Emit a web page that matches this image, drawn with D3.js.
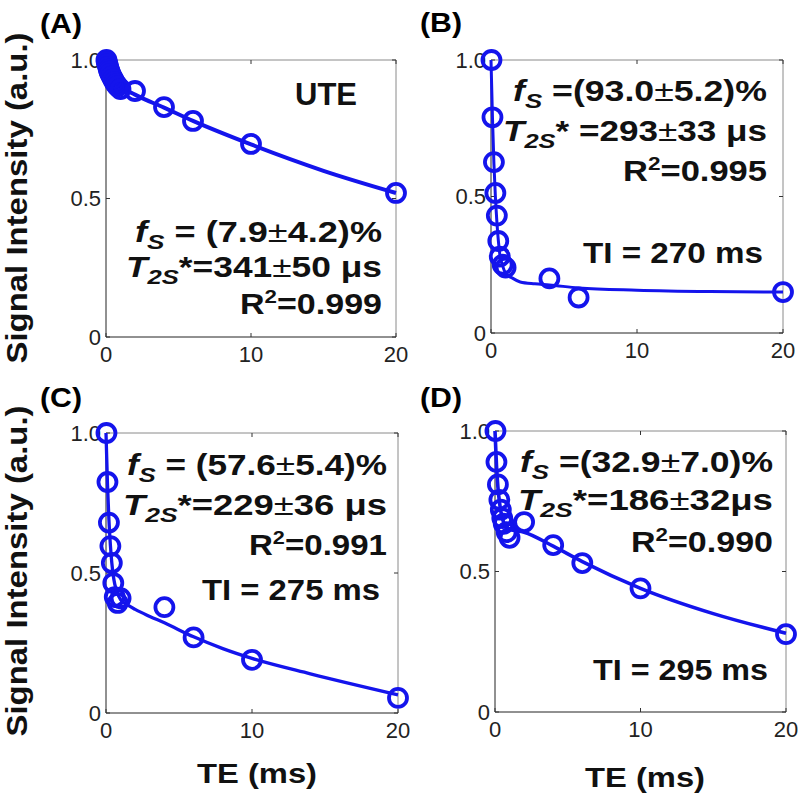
<!DOCTYPE html>
<html><head><meta charset="utf-8">
<script src="https://cdn.jsdelivr.net/npm/d3@7"></script>
<style>body{margin:0;background:#fff}svg{display:block}text{font-family:"Liberation Sans",Arial,sans-serif}</style>
</head><body><svg id="c" width="800" height="796"></svg>
<script>
// ---------- data ----------
const panelLabels = ["(A)", "(B)", "(C)", "(D)"];
const xTicks = [0, 10, 20];
const yTicks = [0, 0.5, 1.0];
const yTickLabels = ["0", "0.5", "1.0"];
const xTitle = "TE (ms)";
const yTitle = "Signal Intensity (a.u.)";

const teA = [0.032, 0.05, 0.1, 0.15, 0.2, 0.25, 0.3, 0.4, 0.5, 0.6, 0.7, 0.8, 1.0, 2, 4, 6, 10, 20];
const siA = [1.0, 0.993, 0.985, 0.975, 0.965, 0.958, 0.95, 0.94, 0.93, 0.92, 0.912, 0.905, 0.895, 0.888, 0.83, 0.78, 0.697, 0.52];
const fitTeA = [0, 0.1, 0.2, 0.3, 0.5, 0.8, 1, 2, 4, 6, 10, 15, 20];
const fitA = [1.0, 0.98, 0.965, 0.952, 0.935, 0.915, 0.905, 0.875, 0.828, 0.78, 0.695, 0.60, 0.52];

const teB = [0.032, 0.1, 0.2, 0.3, 0.4, 0.5, 0.6, 0.8, 1.0, 4, 6, 20];
const siB = [1.0, 0.79, 0.626, 0.513, 0.43, 0.337, 0.28, 0.25, 0.24, 0.20, 0.13, 0.15];
const fitTeB = [0, 0.1, 0.2, 0.3, 0.4, 0.5, 0.6, 0.8, 1, 1.5, 2, 3, 4, 6, 10, 15, 20];
const fitB = [1.0, 0.79, 0.62, 0.50, 0.41, 0.34, 0.29, 0.245, 0.22, 0.2, 0.187, 0.18, 0.176, 0.165, 0.157, 0.152, 0.15];

const teC = [0.032, 0.1, 0.2, 0.3, 0.4, 0.5, 0.6, 0.8, 1.0, 4, 6, 10, 20];
const siC = [1.0, 0.825, 0.68, 0.596, 0.536, 0.464, 0.414, 0.393, 0.41, 0.378, 0.27, 0.19, 0.054];
const fitTeC = [0, 0.1, 0.2, 0.3, 0.4, 0.5, 0.6, 0.8, 1, 1.5, 2, 3, 4, 6, 8, 10, 14, 20];
const fitC = [1.0, 0.82, 0.69, 0.6, 0.535, 0.49, 0.46, 0.425, 0.405, 0.385, 0.37, 0.345, 0.322, 0.272, 0.23, 0.195, 0.14, 0.065];

const teD = [0.032, 0.1, 0.2, 0.3, 0.4, 0.5, 0.6, 0.8, 1.0, 2, 4, 6, 10, 20];
const siD = [1.0, 0.89, 0.81, 0.755, 0.72, 0.69, 0.67, 0.64, 0.62, 0.676, 0.594, 0.53, 0.44, 0.277];
const fitTeD = [0, 0.1, 0.2, 0.3, 0.4, 0.5, 0.6, 0.8, 1, 2, 4, 6, 10, 15, 20];
const fitD = [1.0, 0.88, 0.80, 0.75, 0.715, 0.69, 0.675, 0.66, 0.65, 0.64, 0.59, 0.535, 0.44, 0.35, 0.28];

const fsText = [["  = (7.9", "4.2)%"], [" =(93.0", "5.2)%"], [" = (57.6", "5.4)%"], [" =(32.9", "7.0)%"]];
const t2Text = [["*=341", "50 μs"], ["* =293", "33 μs"], ["*=229", "36 μs"], ["*=186", "32μs"]];
const r2Text = ["0.999", "0.995", "0.991", "0.990"];
const extraText = ["UTE", "TI = 270 ms", "TI = 275 ms", "TI = 295 ms"];

// ---------- layout ----------
const BLUE = "#1414ec";
const panels = [
  {te: teA, si: siA, fx: fitTeA, fy: fitA, x0: 106, x1: 396, yT: 60, yB: 337, lab: [40, 33], lw: 4,
   ann: {r: 382, base: [242, 277, 314], w: [247, 256, 142]}, extra: {x: 326, y: 105, w: 62, anchor: "middle"}},
  {te: teB, si: siB, fx: fitTeB, fy: fitB, x0: 491, x1: 783, yT: 60, yB: 333, lab: [420, 32], lw: 3,
   ann: {r: 767, base: [101, 141, 181], w: [254, 264, 144]}, extra: {x: 763, y: 263, w: 180, anchor: "end"}},
  {te: teC, si: siC, fx: fitTeC, fy: fitC, x0: 106, x1: 398, yT: 433, yB: 713, lab: [40, 407], lw: 3.3,
   ann: {r: 387, base: [475, 515, 555], w: [260, 264, 138]}, extra: {x: 380, y: 600, w: 178, anchor: "end"}},
  {te: teD, si: siD, fx: fitTeD, fy: fitD, x0: 495, x1: 786, yT: 431, yB: 712, lab: [420, 407], lw: 3.6,
   ann: {r: 773, base: [472, 510, 552], w: [253, 255, 142]}, extra: {x: 768, y: 680, w: 175, anchor: "end"}}
];

const svg = d3.select("#c");

panels.forEach((p, i) => {
  const x = d3.scaleLinear().domain([0, 20]).range([p.x0, p.x1]);
  const y = d3.scaleLinear().domain([0, 1]).range([p.yB, p.yT]);
  const g = svg.append("g");

  // box
  g.append("line").attr("x1", p.x0).attr("x2", p.x1).attr("y1", p.yT).attr("y2", p.yT).attr("stroke", "#8a8a8a");
  g.append("line").attr("x1", p.x1).attr("x2", p.x1).attr("y1", p.yT).attr("y2", p.yB).attr("stroke", "#8a8a8a");
  g.append("line").attr("x1", p.x0).attr("x2", p.x1).attr("y1", p.yB).attr("y2", p.yB).attr("stroke", "#222");
  g.append("line").attr("x1", p.x0).attr("x2", p.x0).attr("y1", p.yT).attr("y2", p.yB).attr("stroke", "#222");

  // ticks (inward, all sides)
  xTicks.forEach(t => {
    g.append("line").attr("x1", x(t)).attr("x2", x(t)).attr("y1", p.yB).attr("y2", p.yB - 4).attr("stroke", "#333");
    g.append("line").attr("x1", x(t)).attr("x2", x(t)).attr("y1", p.yT).attr("y2", p.yT + 4).attr("stroke", "#333");
    g.append("text").attr("x", x(t)).attr("y", p.yB + 25).attr("text-anchor", "middle")
      .attr("font-size", 22).attr("fill", "#222").text(t);
  });
  yTicks.forEach((t, k) => {
    g.append("line").attr("x1", p.x0).attr("x2", p.x0 + 4).attr("y1", y(t)).attr("y2", y(t)).attr("stroke", "#333");
    g.append("line").attr("x1", p.x1).attr("x2", p.x1 - 4).attr("y1", y(t)).attr("y2", y(t)).attr("stroke", "#333");
    g.append("text").attr("x", p.x0 - 5).attr("y", y(t)).attr("dy", "0.36em").attr("text-anchor", "end")
      .attr("font-size", 22).attr("fill", "#222").text(yTickLabels[k]);
  });

  // fit line
  const fit = p.fx.map((v, k) => [v, p.fy[k]]);
  g.append("path").datum(fit)
    .attr("d", d3.line().x(d => x(d[0])).y(d => y(d[1])).curve(d3.curveMonotoneX))
    .attr("fill", "none").attr("stroke", BLUE).attr("stroke-width", p.lw);

  // data circles
  g.selectAll("circle.pt").data(p.te.map((v, k) => [v, p.si[k]])).enter().append("circle")
    .attr("cx", d => x(d[0])).attr("cy", d => y(d[1])).attr("r", 9)
    .attr("fill", "none").attr("stroke", BLUE).attr("stroke-width", 3.8);

  // panel label
  g.append("text").attr("x", p.lab[0]).attr("y", p.lab[1]).attr("font-size", 28).attr("font-weight", "bold")
    .attr("textLength", 42).attr("lengthAdjust", "spacingAndGlyphs").text(panelLabels[i]);

  // annotations
  const a = p.ann;
  let t = g.append("text").attr("x", a.r - a.w[0]).attr("y", a.base[0]).attr("font-size", 29).attr("font-weight", "bold")
    .attr("textLength", a.w[0]).attr("lengthAdjust", "spacingAndGlyphs").attr("fill", "#111");
  t.append("tspan").attr("font-style", "italic").text("f");
  t.append("tspan").attr("font-style", "italic").attr("font-size", 21).attr("dy", 7).text("S");
  t.append("tspan").attr("dy", -7).text(fsText[i][0]);
  t.append("tspan").attr("font-weight", "normal").text("±");
  t.append("tspan").text(fsText[i][1]);

  t = g.append("text").attr("x", a.r - a.w[1]).attr("y", a.base[1]).attr("font-size", 29).attr("font-weight", "bold")
    .attr("textLength", a.w[1]).attr("lengthAdjust", "spacingAndGlyphs").attr("fill", "#111");
  t.append("tspan").attr("font-style", "italic").text("T");
  t.append("tspan").attr("font-style", "italic").attr("font-size", 21).attr("dy", 7).text("2S");
  t.append("tspan").attr("dy", -7).text(t2Text[i][0]);
  t.append("tspan").attr("font-weight", "normal").text("±");
  t.append("tspan").text(t2Text[i][1]);

  t = g.append("text").attr("x", a.r - a.w[2]).attr("y", a.base[2]).attr("font-size", 29).attr("font-weight", "bold")
    .attr("textLength", a.w[2]).attr("lengthAdjust", "spacingAndGlyphs").attr("fill", "#111");
  t.append("tspan").text("R");
  t.append("tspan").attr("font-size", 19).attr("dy", -11).text("2");
  t.append("tspan").attr("dy", 11).text("=" + r2Text[i]);

  const e = p.extra;
  g.append("text").attr("x", e.anchor === "middle" ? e.x - e.w / 2 : e.x - e.w).attr("y", e.y)
    .attr("font-size", i === 0 ? 31 : 29).attr("font-weight", "bold").attr("fill", "#111")
    .attr("textLength", e.w).attr("lengthAdjust", "spacingAndGlyphs").text(extraText[i]);
});

// axis titles
[[27, 198], [27, 571]].forEach(c => {
  svg.append("text").attr("transform", `translate(${c[0]},${c[1]}) rotate(-90)`).attr("text-anchor", "middle")
    .attr("font-size", 30).attr("font-weight", "bold").attr("fill", "#111")
    .attr("textLength", 331).attr("lengthAdjust", "spacingAndGlyphs").text(yTitle);
});
[[197, 783], [585, 787]].forEach(c => {
  svg.append("text").attr("x", c[0]).attr("y", c[1]).attr("font-size", 28).attr("font-weight", "bold").attr("fill", "#111")
    .attr("textLength", 120).attr("lengthAdjust", "spacingAndGlyphs").text(xTitle);
});
</script></body></html>
